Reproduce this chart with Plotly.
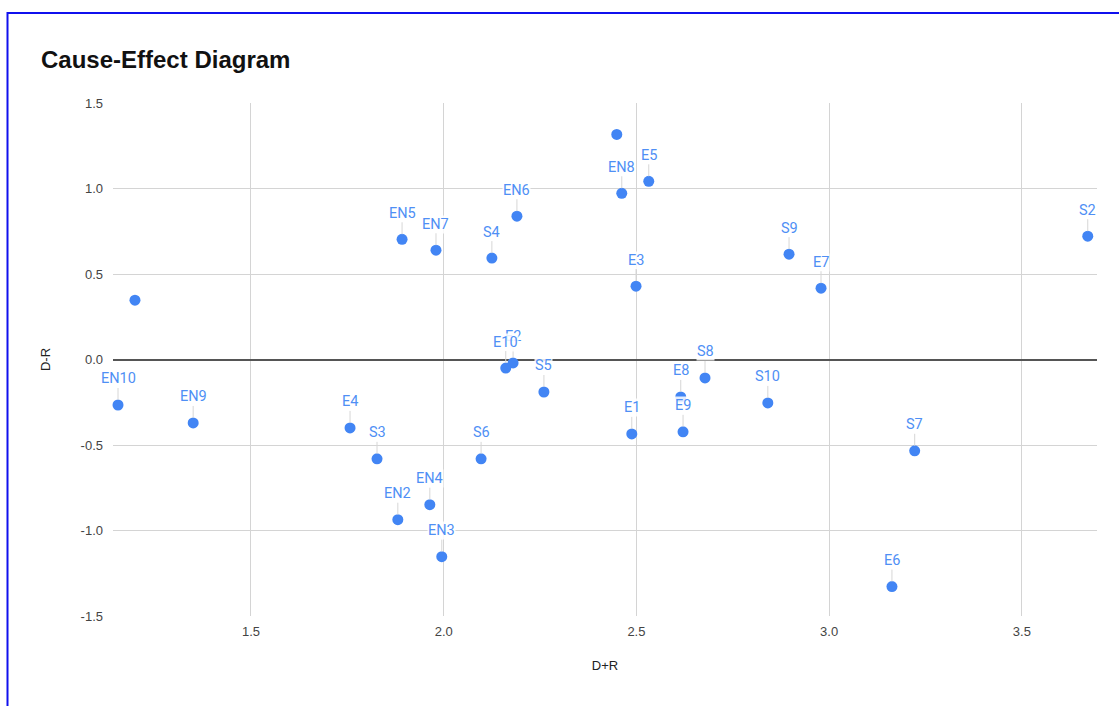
import plotly.graph_objects as go

names = ["EN10", "EN9", "E4", "S3", "EN2", "EN4", "EN3", "S6", "EN5", "EN7",
         "S4", "EN6", "E2", "E10", "S5", "S1", "EN8", "E5", "E3", "E1",
         "E8", "E9", "S8", "S10", "S9", "E7", "S7", "E6", "S2", "EN1"]
d_plus_r = [1.155, 1.350, 1.757, 1.827, 1.881, 1.964, 1.995, 2.097, 1.892, 1.980,
            2.125, 2.190, 2.180, 2.161, 2.260, 2.449, 2.462, 2.532, 2.499, 2.488,
            2.615, 2.621, 2.678, 2.841, 2.896, 2.979, 3.222, 3.163, 3.671, 1.199]
d_minus_r = [-0.266, -0.371, -0.400, -0.581, -0.937, -0.849, -1.153, -0.581, 0.703, 0.639,
             0.593, 0.838, -0.020, -0.050, -0.190, 1.316, 0.972, 1.042, 0.429, -0.435,
             -0.219, -0.423, -0.108, -0.254, 0.616, 0.417, -0.534, -1.328, 0.721, 0.347]
# labels hidden in the reference (collisions)
hidden_labels = ["S1", "EN1"]

x_ticks = [1.5, 2.0, 2.5, 3.0, 3.5]
x_tick_text = ["1.5", "2.0", "2.5", "3.0", "3.5"]
y_ticks = [1.5, 1.0, 0.5, 0.0, -0.5, -1.0, -1.5]
y_tick_text = ["1.5", "1.0", "0.5", "0.0", "-0.5", "-1.0", "-1.5"]

W, H = 1119, 706
ML, MR, MT, MB = 113, 22, 103, 90
PW = W - ML - MR
PH = H - MT - MB

fig = go.Figure()
fig.add_trace(go.Scatter(
    x=d_plus_r, y=d_minus_r, mode="markers", text=names,
    marker=dict(color="#4285F4", size=11),
    hovertemplate="%{text}<br>D+R: %{x}<br>D-R: %{y}<extra></extra>",
    showlegend=False, cliponaxis=False,
))

annotations = []
for n, xv, yv in zip(names, d_plus_r, d_minus_r):
    if n in hidden_labels:
        continue
    annotations.append(dict(
        x=xv, y=yv, xref="x", yref="y", text=n,
        showarrow=True, arrowhead=0, arrowwidth=1, arrowcolor="#d6d6d6",
        ax=0, ay=-26, standoff=5,
        font=dict(family="Roboto, Arial, sans-serif", size=14.5, color="#4f8ff5"),
        bgcolor="rgba(255,255,255,0.85)", borderpad=0,
    ))

fig.update_layout(
    width=W, height=H,
    margin=dict(l=ML, r=MR, t=MT, b=MB),
    paper_bgcolor="white", plot_bgcolor="white",
    font=dict(family="Arial, Liberation Sans, sans-serif", size=13, color="#444444"),
    title=dict(text="<b>Cause-Effect Diagram</b>", x=41 / W, xanchor="left",
               y=1 - 60 / H, yanchor="middle",
               font=dict(family="Arial, Liberation Sans, sans-serif", size=24, color="#111111")),
    xaxis=dict(range=[1.142, 3.695], tickvals=x_ticks, ticktext=x_tick_text,
               showgrid=True, gridcolor="#d4d4d4", gridwidth=1, zeroline=False,
               showline=False, ticks="", ticklen=0, ticklabelstandoff=6,
               title=dict(text="D+R", font=dict(size=13, color="#222222"), standoff=22),
               tickfont=dict(size=13, color="#444444")),
    yaxis=dict(range=[-1.5, 1.5], tickvals=y_ticks, ticktext=y_tick_text,
               showgrid=True, gridcolor="#d4d4d4", gridwidth=1,
               zeroline=True, zerolinecolor="#555555", zerolinewidth=1.5,
               showline=False, ticks="", ticklen=0, ticklabelstandoff=9,
               title=dict(text="D-R", font=dict(size=13, color="#222222"), standoff=27),
               tickfont=dict(size=13, color="#444444")),
    annotations=annotations,
    shapes=[dict(type="rect", xref="paper", yref="paper",
                 x0=(7.5 - ML) / PW, x1=(1150 - ML) / PW,
                 y0=(H - MB - 760) / PH, y1=(H - MB - 13) / PH,
                 line=dict(color="#1010ee", width=2), fillcolor="rgba(0,0,0,0)",
                 layer="above")],
)

fig.write_html("out.html", config={"displayModeBar": False},
               post_script="document.body.style.margin='0px';")
